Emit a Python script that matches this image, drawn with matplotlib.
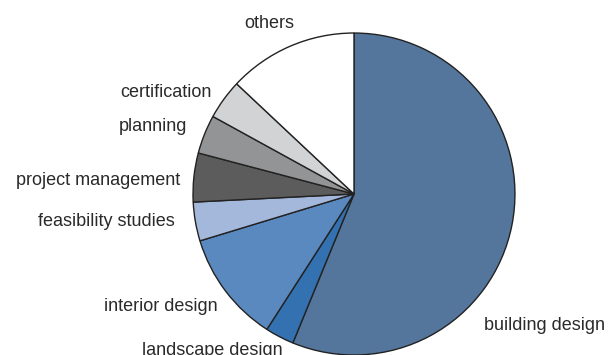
import matplotlib.pyplot as plt

# slices, clockwise from 12 o'clock
labels = ["building design", "landscape design", "interior design", "feasibility studies",
          "project management", "planning", "certification", "others"]
shares = [56.2, 2.9, 11.2, 3.9, 4.9, 3.9, 4.0, 13.0]
colors = ["#55769c", "#3371b0", "#5a89bf", "#a4b8db", "#5c5c5c", "#939496", "#d2d3d5", "#ffffff"]

# where each label sits (pie radius units) and how it is aligned
label_xy = [(0.807, -0.82), (-0.882, -0.97), (-0.845, -0.70), (-1.112, -0.17),
            (-1.081, 0.085), (-1.037, 0.42), (-0.882, 0.63), (-0.528, 1.06)]
label_ha = ["left", "center", "right", "right", "right", "right", "right", "center"]

plt.rcParams['font.family'] = ['Liberation Sans', 'DejaVu Sans']

fig = plt.figure(figsize=(6.08, 3.55), dpi=100)
ax = fig.add_axes([0, 0, 1, 1])

ax.pie(shares, colors=colors, startangle=90, counterclock=False,
       wedgeprops=dict(edgecolor="#222222", linewidth=1.0))

for lab, (x, y), ha in zip(labels, label_xy, label_ha):
    ax.text(x, y, lab, ha=ha, va="center", fontsize=13, color="#2a2a2a")

ax.set_xlim(-2.199, 1.578)
ax.set_ylim(-1.0, 1.205)
ax.set_aspect("equal")
ax.axis("off")

fig.savefig("out.png", dpi=100)
